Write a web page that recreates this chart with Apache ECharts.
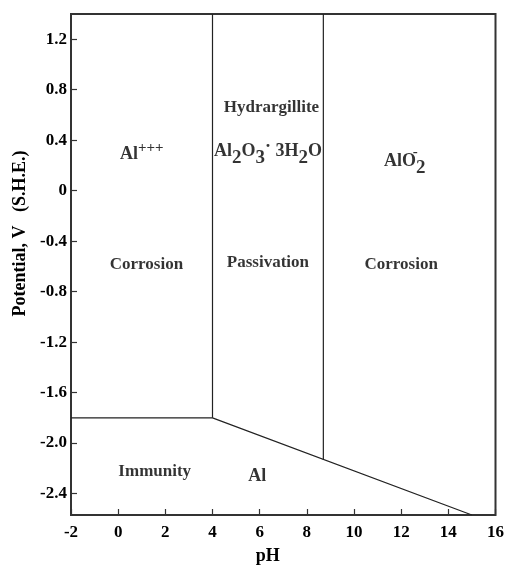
<!DOCTYPE html>
<html>
<head>
<meta charset="utf-8">
<script src="https://cdn.jsdelivr.net/npm/echarts@6/dist/echarts.min.js"></script>
<style>
html,body{margin:0;padding:0;background:#fff;}
#main{width:507px;height:570px;}
</style>
</head>
<body>
<div id="main"></div>
<script>
// axis range and ticks
var phMin=-2,phMax=16;
var eMin=-2.57,eMax=1.4;
var yTickVals=[-2.4,-2.0,-1.6,-1.2,-0.8,-0.4,0,0.4,0.8,1.2];
var yTickLabels=["-2.4","-2.0","-1.6","-1.2","-0.8","-0.4","0","0.4","0.8","1.2"];

// boundaries of the diagram (pH, potential)
var immunityLine=[[-2,-1.8],[4,-1.8],[15,-2.57]];
var acidLine=[[4,-1.8],[4,1.4]];
var alkaliLine=[[8.7,-2.135],[8.7,1.4]];

// region labels
var regionNames=["Corrosion","Passivation","Corrosion","Immunity","Hydrargillite"];
var regionPos=[[1.2,-0.585],[6.35,-0.57],[12.0,-0.585],[1.55,-2.225],[6.5,0.66]];
var speciesText=["Al{sup|+++}","Al{sub|2}O{sub|3}{dot|·} 3H{sub|2}O","AlO{sub|2}","{sup|-}","Al"];
var speciesPos=[[1.0,0.29],[6.35,0.31],[12.15,0.23],[12.6,0.265],[5.9,-2.26]];

var font="Liberation Serif";
var ink="#000";

function lineSeries(pts){
	return {
		type:'line',data:pts,symbol:'none',silent:true,
		lineStyle:{color:'#222',width:1.2},z:3
	};
}

var chart=echarts.init(document.getElementById('main'));
var option={
	animation:false,
	backgroundColor:'#fff',
	grid:{left:71,top:14,right:11,bottom:55,show:true,borderColor:'#333',borderWidth:2,backgroundColor:'transparent'},
	xAxis:{
		type:'value',min:phMin,max:phMax,interval:2,
		name:'pH',nameLocation:'middle',nameGap:32,
		nameTextStyle:{fontFamily:font,fontWeight:'bold',fontSize:18,color:ink,padding:[0,31,0,0]},
		axisLine:{show:false,onZero:false},
		axisTick:{show:true,inside:true,length:6,lineStyle:{color:'#333',width:1.2}},
		axisLabel:{fontFamily:font,fontWeight:'bold',fontSize:17,color:ink,margin:9},
		splitLine:{show:false}
	},
	yAxis:{
		type:'value',min:eMin,max:eMax,
		name:'Potential, V   (S.H.E.)',nameLocation:'middle',nameGap:41,
		nameTextStyle:{fontFamily:font,fontWeight:'bold',fontSize:18,color:ink,padding:[0,0,0,62]},
		axisLine:{show:false,onZero:false},
		axisTick:{show:true,inside:true,length:6,customValues:yTickVals,lineStyle:{color:'#333',width:1.2}},
		axisLabel:{
			fontFamily:font,fontWeight:'bold',fontSize:17,color:ink,margin:4,
			customValues:yTickVals,
			formatter:function(v){
				var i=yTickVals.findIndex(function(t){return Math.abs(t-v)<1e-6;});
				return i<0?'':yTickLabels[i];
			}
		},
		splitLine:{show:false}
	},
	series:[
		lineSeries(immunityLine),
		lineSeries(acidLine),
		lineSeries(alkaliLine),
		{
			type:'scatter',symbolSize:0,silent:true,z:5,
			data:regionPos.map(function(p,i){return {value:p,name:regionNames[i]};}),
			label:{show:true,position:'inside',formatter:'{b}',fontFamily:font,fontWeight:'bold',fontSize:17,color:ink,textBorderWidth:0}
		},
		{
			type:'scatter',symbolSize:0,silent:true,z:5,
			data:speciesPos.map(function(p,i){return {value:p,name:speciesText[i]};}),
			label:{
				show:true,position:'inside',formatter:'{b}',
				fontFamily:font,fontWeight:'bold',fontSize:18,color:ink,textBorderWidth:0,
				rich:{
					sub:{fontFamily:font,fontWeight:'bold',fontSize:19,color:ink,textBorderWidth:0,padding:[13,0,0,0]},
					sup:{fontFamily:font,fontWeight:'bold',fontSize:15,color:ink,textBorderWidth:0,padding:[0,0,11,0]},
					dot:{fontFamily:font,fontWeight:'bold',fontSize:18,color:ink,textBorderWidth:0,padding:[0,0,9,0]}
				}
			}
		}
	]
};
chart.setOption(option);
</script>
</body>
</html>
